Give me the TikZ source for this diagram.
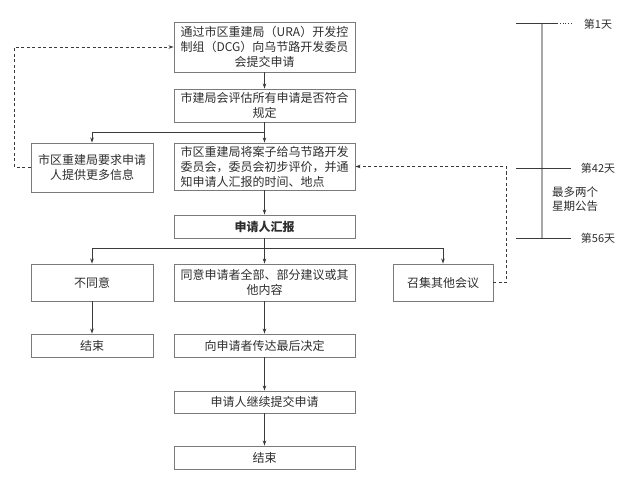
\documentclass[tikz,border=0pt]{standalone}
\usepackage{fontspec}
\setmainfont{Noto Sans CJK SC}
\usetikzlibrary{arrows.meta}
\definecolor{txt}{HTML}{2E2E2E}
\definecolor{edge}{HTML}{7A7A7A}
\definecolor{conn}{HTML}{3A3A3A}
\definecolor{tl}{HTML}{A8A8A8}
\begin{document}
\begin{tikzpicture}[x=1pt,y=-1pt,
  box/.style={draw=edge,line width=0.9pt,inner sep=0pt,text=txt,font=\fontsize{12}{15}\selectfont,align=center},
  mainbox/.style={box,minimum width=181pt},
  sidebox/.style={box,minimum width=122pt},
  arr/.style={draw=conn,line width=0.8pt,-{Stealth[length=5pt,width=3.5pt]}},
  dasharr/.style={arr,dashed,dash pattern=on 3pt off 2.5pt},
  tick/.style={draw=conn,line width=0.9pt},
  tlabel/.style={text=txt,font=\fontsize{11}{14}\selectfont,inner sep=0pt}]
\useasboundingbox (0,0) rectangle (640,484);
\fill[white] (0,0) rectangle (640,484);
% main column
\node[mainbox,minimum height=50pt] (b1) at (264.5,47) {通过市区重建局（URA）开发控\\制组（DCG）向乌节路开发委员\\会提交申请};
\node[mainbox,minimum height=33pt] (b2) at (264.5,105.5) {市建局会评估所有申请是否符合\\规定};
\node[mainbox,minimum height=47pt,align=left] (b3) at (264.5,166.5) {市区重建局将案子给乌节路开发\\委员会，委员会初步评价，并通\\知申请人汇报的时间、地点};
\node[sidebox,minimum height=49pt] (bl) at (92,167.5) {市区重建局要求申请\\人提供更多信息};
\node[mainbox,minimum height=23pt,font=\fontsize{12}{15}\selectfont\bfseries] (b4) at (264.5,226.5) {申请人汇报};
\node[sidebox,minimum height=37pt] (no) at (92,282.5) {不同意};
\node[mainbox,minimum height=37pt] (yes) at (264.5,282.5) {同意申请者全部、部分建议或其\\他内容};
\node[box,minimum width=100pt,minimum height=37pt] (meet) at (443,282.5) {召集其他会议};
\node[sidebox,minimum height=23pt] (endl) at (92,345.5) {结束};
\node[mainbox,minimum height=23pt] (dec) at (264.5,345.5) {向申请者传达最后决定};
\node[mainbox,minimum height=22pt] (cont) at (264.5,402) {申请人继续提交申请};
\node[mainbox,minimum height=23pt] (endm) at (264.5,457.5) {结束};
% connectors
\draw[arr] (b1) -- (b2);
\draw[arr] (b2) -- (b3);
\draw[arr] (b2.south) -- ++(0,10) -| (bl.north);
\draw[arr] (b3) -- (b4);
\draw[arr] (b4) -- (yes);
\draw[arr] (b4.south) -- ++(0,10) -| (no.north);
\draw[arr] (b4.south) -- ++(0,10) -| (meet.north);
\draw[arr] (no) -- (endl);
\draw[arr] (yes) -- (dec);
\draw[arr] (dec) -- (cont);
\draw[arr] (cont) -- (endm);
\draw[dasharr] (bl.west) -- ++(-16,0) |- (b1.west);
\draw[dasharr] (meet.east) -- ++(13,0) |- (b3.east);
% timeline
\coordinate (t1) at (542,23);
\coordinate (t2) at (542,238);
\draw[draw=tl,line width=1.5pt] (t1) -- (t2);
\draw[tick] (516,23) -- (557,23);
\draw[conn,line width=0.8pt,dotted] (557,23) -- (573,23);
\draw[tick] (516,168) -- (571,168);
\draw[tick] (516,238) -- (571,238);
\node[tlabel] (l1) at (598,24) {第1天};
\node[tlabel] (l42) at (598,168) {第42天};
\node[tlabel] (l56) at (598,238) {第56天};
\node[tlabel,align=center,font=\fontsize{11.5}{14.5}\selectfont] (note) at (575,199) {最多两个\\星期公告};
\end{tikzpicture}
\end{document}
